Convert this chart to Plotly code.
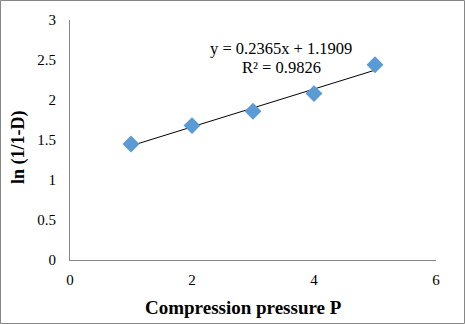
import plotly.graph_objects as go

pressure = [1, 2, 3, 4, 5]
ln_values = [1.45, 1.68, 1.86, 2.08, 2.44]
slope = 0.2365
intercept = 1.1909
r2 = 0.9826

W, H = 465, 324
L, R, T, B = 70, 29, 20, 64
pw, ph = W - L - R, H - T - B

def px(x):
    return (x - L) / pw

def py(y):
    return 1 - (y - T) / ph

trend_x = [min(pressure), max(pressure)]
trend_y = [slope * x + intercept for x in trend_x]

fig = go.Figure()
fig.add_trace(go.Scatter(x=trend_x, y=trend_y, mode="lines",
                         line=dict(color="black", width=1), showlegend=False, hoverinfo="skip"))
fig.add_trace(go.Scatter(x=pressure, y=ln_values, mode="markers",
                         marker=dict(symbol="diamond", size=13, color="#5B9BD5"),
                         showlegend=False))

font = "Liberation Serif"
fig.update_layout(
    width=W, height=H,
    margin=dict(l=L, r=R, t=T, b=B),
    paper_bgcolor="white", plot_bgcolor="white",
    font=dict(family=font, size=15, color="black"),
    xaxis=dict(range=[0, 6], tickvals=[0, 2, 4, 6], showgrid=False, zeroline=False,
               showline=True, linecolor="#868686", linewidth=1, ticks="",
               ticklabelstandoff=6, tickfont=dict(size=15, family=font)),
    yaxis=dict(range=[0, 3], tickvals=[0, 0.5, 1, 1.5, 2, 2.5, 3], showgrid=False, zeroline=False,
               showline=True, linecolor="#868686", linewidth=1, ticks="",
               ticklabelstandoff=10, tickfont=dict(size=15, family=font)),
    annotations=[
        dict(text="<b>Compression pressure P</b>", x=px(243), y=py(307), xref="paper", yref="paper",
             showarrow=False, font=dict(size=19, family=font), xanchor="center", yanchor="middle"),
        dict(text="<b>ln (1/1-D)</b>", x=px(18), y=py(147), xref="paper", yref="paper",
             showarrow=False, textangle=-90, font=dict(size=18, family=font),
             xanchor="center", yanchor="middle"),
        dict(text=f"y = {slope}x + {intercept}", x=px(281), y=py(48), xref="paper", yref="paper",
             showarrow=False, font=dict(size=16.5, family=font), xanchor="center", yanchor="middle"),
        dict(text=f"R² = {r2}", x=px(281), y=py(68), xref="paper", yref="paper",
             showarrow=False, font=dict(size=16.5, family=font), xanchor="center", yanchor="middle"),
    ],
    shapes=[dict(type="rect", xref="paper", yref="paper",
                 x0=px(0.5), x1=px(W - 0.5), y0=py(H - 0.5), y1=py(0.5),
                 line=dict(color="#868686", width=1), fillcolor="rgba(0,0,0,0)", layer="above")],
)

fig.write_html("out.html")
